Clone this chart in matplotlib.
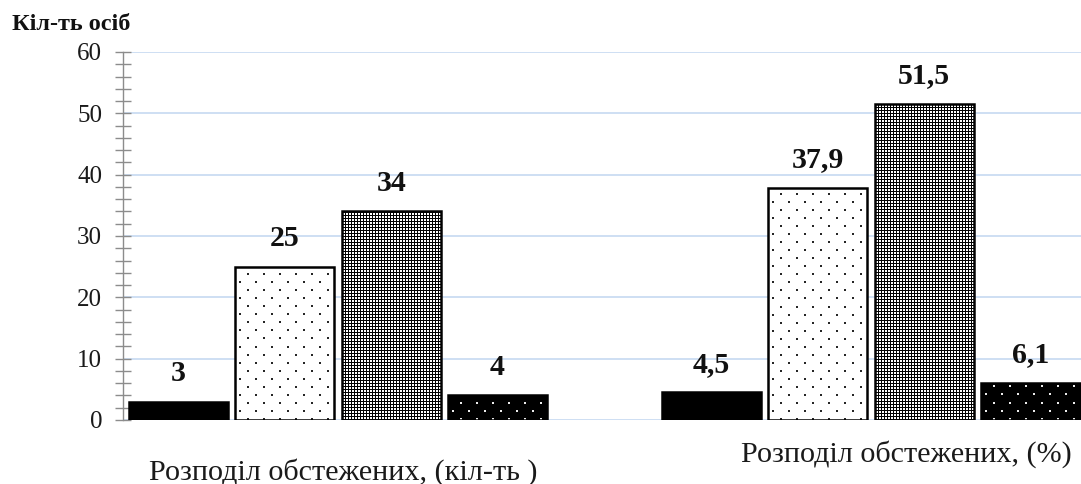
import numpy as np
import matplotlib
matplotlib.use("Agg")
import matplotlib.pyplot as plt
from matplotlib.ticker import MultipleLocator

# ---- data -------------------------------------------------------------
categories = ["Розподіл обстежених, (кіл-ть )", "Розподіл обстежених, (%)"]
counts = [3, 25, 34, 4]            # number of people per group
percents = [4.5, 37.9, 51.5, 6.1]  # share of people per group, %
y_ticks = [0, 10, 20, 30, 40, 50, 60]
y_title = "Кіл-ть осіб"

# ---- styling ----------------------------------------------------------
SERIF = "Liberation Serif"
face_colors = ["black", "white", "white", "black"]
textures = [None, "dots", "mesh", "white_dots"]
GRID_BLUE = "#c6d9f1"
AXIS_GREY = "#8c8c8c"

W, H, DPI = 1081, 484, 100
fig = plt.figure(figsize=(W / DPI, H / DPI), dpi=DPI)
ax = fig.add_axes([123 / W, 64 / H, (W - 123) / W, 368 / H])

XLIM = (-0.4034, 1.394)
YLIM = (y_ticks[0], y_ticks[-1])
ax.set_xlim(*XLIM)
ax.set_ylim(*YLIM)

bar_w = 0.1857
step = 0.1994
x_cat = np.arange(len(categories))
n_series = len(counts)


def texture(kind, h, w):
    """Return a grey-level pattern image of h x w pixels."""
    i = np.arange(h)[:, None]
    j = np.arange(w)[None, :]
    if kind in ("dots", "white_dots"):
        row = i // 8
        off = (row % 2) * 8
        dot = ((i % 8) < 2) & (((j + off + 4) % 16) < 2)
        if kind == "dots":
            return np.where(dot, 0.15, 1.0)
        return np.where(dot, 0.92, 0.0)
    if kind == "mesh":
        white = (i % 3 != 0) & (j % 3 != 0)
        return np.where(white, 1.0, 0.0)
    return np.ones((h, w))


for k in range(n_series):
    vals = [counts[k], percents[k]]
    xs = x_cat + (k - (n_series - 1) / 2) * step
    bars = ax.bar(xs, vals, width=bar_w, color=face_colors[k],
                  edgecolor="none", zorder=2)
    kind = textures[k]
    if kind is not None:
        for rect in bars:
            x0, y0 = rect.get_x(), rect.get_y()
            x1, y1 = x0 + rect.get_width(), y0 + rect.get_height()
            p0 = ax.transData.transform((x0, y0))
            p1 = ax.transData.transform((x1, y1))
            wpx = max(int(round(p1[0] - p0[0])), 1)
            hpx = max(int(round(p1[1] - p0[1])), 1)
            img = texture(kind, hpx, wpx)
            im = ax.imshow(img, cmap="gray", vmin=0, vmax=1,
                           extent=(x0, x1, y0, y1), origin="lower",
                           interpolation="nearest", aspect="auto",
                           zorder=2.5)
            im.set_clip_path(rect)
    ax.bar(xs, vals, width=bar_w, fill=False, edgecolor="black",
           linewidth=1.8, zorder=3)
    for x, v in zip(xs, vals):
        ax.annotate(f"{v:g}".replace(".", ","), (x, v), xytext=(0, 15),
                    textcoords="offset points", ha="center", va="baseline",
                    fontsize=21.5, fontweight="bold", family=SERIF,
                    color="#111111")

ax.set_xlim(*XLIM)
ax.set_ylim(*YLIM)

# axes decoration
ax.set_yticks(y_ticks)
ax.yaxis.set_minor_locator(MultipleLocator(2))
ax.set_xticks([])
ax.tick_params(axis="y", which="both", direction="inout", length=11,
               width=1, color=AXIS_GREY, labelsize=18, pad=9.5,
               labelcolor="#1a1a1a")
for lab in ax.get_yticklabels():
    lab.set_family(SERIF)
ax.yaxis.grid(True, color=GRID_BLUE, linewidth=1.2)
ax.set_axisbelow(True)
for side in ("top", "right", "bottom"):
    ax.spines[side].set_visible(False)
ax.spines["left"].set_color(AXIS_GREY)
ax.spines["left"].set_linewidth(1)

# category captions under each group
caption_shift = [0.01, 0.067]
caption_drop = [43, 30]
for xc, name, dx, dy in zip(x_cat, categories, caption_shift, caption_drop):
    ax.annotate(name, (xc + dx, 0), xycoords=("data", "axes fraction"),
                xytext=(0, -dy), textcoords="offset points", ha="center",
                va="baseline", fontsize=21.7, family=SERIF, color="#1a1a1a",
                annotation_clip=False)

fig.text(12 / W, (H - 30) / H, y_title, ha="left", va="baseline",
         fontsize=17.5, fontweight="bold", family=SERIF, color="#111111")

fig.savefig("out.png", dpi=DPI)
